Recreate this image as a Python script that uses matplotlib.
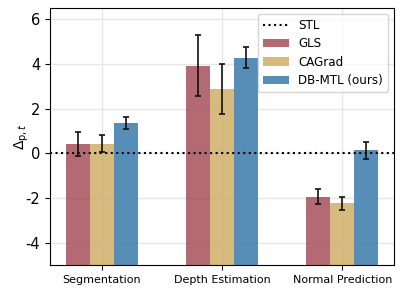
import numpy as np
import matplotlib
matplotlib.use("Agg")
import matplotlib.pyplot as plt

plt.rcParams['axes.unicode_minus'] = False

tasks = ["Segmentation", "Depth Estimation", "Normal Prediction"]
methods = ["GLS", "CAGrad", "DB-MTL (ours)"]
colors = ["#a7505a", "#cfae68", "#3a7aab"]

# mean and std of delta per task
gls = [0.43, 3.93, -1.94]
gls_err = [0.53, 1.38, 0.33]
cagrad = [0.44, 2.88, -2.24]
cagrad_err = [0.40, 1.10, 0.31]
dbmtl = [1.38, 4.29, 0.14]
dbmtl_err = [0.27, 0.46, 0.38]

vals = [gls, cagrad, dbmtl]
errs = [gls_err, cagrad_err, dbmtl_err]
ymin = -5

fig, ax = plt.subplots(figsize=(4.07, 2.91), dpi=100)
x = np.arange(len(tasks))
w = 0.2

ax.axhline(0, color="black", linestyle=":", linewidth=1.5, label="STL", zorder=3)
for i, (m, v, e) in enumerate(zip(methods, vals, errs)):
    v = np.array(v)
    ax.bar(x + (i - 1) * w, v - ymin, w, bottom=ymin, color=colors[i], alpha=0.85, label=m, zorder=2)
    ax.errorbar(x + (i - 1) * w, v, yerr=e, fmt="none", ecolor="#111111",
                elinewidth=1.2, capsize=2.5, capthick=1.2, zorder=4)

ax.set_ylim(ymin, 6.5)
ax.set_yticks([-4, -2, 0, 2, 4, 6])
ax.set_xticks(x)
ax.set_xticklabels(tasks, fontsize=8)
ax.tick_params(axis="y", labelsize=10.5)
ax.set_ylabel(r"$\Delta_{\mathrm{p},t}$", fontsize=10)
ax.yaxis.set_label_coords(-0.055, 0.5)
ax.grid(True, color="#e6e6e6", linewidth=1, zorder=0)
ax.set_axisbelow(True)
ax.legend(loc="upper right", fontsize=8.6, handlelength=2.2, labelspacing=0.45)

fig.subplots_adjust(left=0.123, right=0.968, top=0.972, bottom=0.089)
plt.savefig("out.png", dpi=100)
